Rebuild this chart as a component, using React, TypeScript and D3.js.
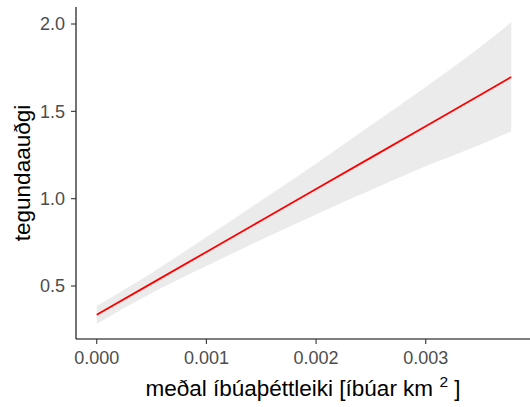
import React from 'react';
import * as d3 from 'd3';

const density = [0, 0.0005, 0.001, 0.0015, 0.002, 0.0025, 0.003, 0.0035, 0.00378];
const fitted = [0.335, 0.515, 0.695, 0.875, 1.055, 1.235, 1.415, 1.595, 1.697];
const upperCI = [0.385, 0.575, 0.78, 0.99, 1.2, 1.42, 1.64, 1.87, 2.011];
const lowerCI = [0.283, 0.46, 0.615, 0.765, 0.91, 1.05, 1.185, 1.31, 1.385];

const xTicks = [0, 0.001, 0.002, 0.003];
const yTicks = [0.5, 1.0, 1.5, 2.0];

const W = 530;
const H = 407;
const margin = { top: 7, right: 0, bottom: 68, left: 76 };

type Row = { x: number; fit: number; lo: number; hi: number };

const App: React.FC = () => {
  const rows: Row[] = density.map((x, i) => ({ x, fit: fitted[i], lo: lowerCI[i], hi: upperCI[i] }));

  // ggplot-style 5% expansion
  const xMin = d3.min(density) as number;
  const xMax = d3.max(density) as number;
  const yMin = d3.min(lowerCI) as number;
  const yMax = d3.max(upperCI) as number;
  const xPad = (xMax - xMin) * 0.05;
  const yPad = (yMax - yMin) * 0.05;

  const x = d3.scaleLinear()
    .domain([xMin - xPad, xMax + xPad])
    .range([margin.left, 532]);
  const y = d3.scaleLinear()
    .domain([yMin - yPad, yMax + yPad])
    .range([H - margin.bottom, margin.top]);

  const area = d3.area<Row>()
    .x(d => x(d.x))
    .y0(d => y(d.lo))
    .y1(d => y(d.hi))
    .curve(d3.curveMonotoneX);

  const line = d3.line<Row>()
    .x(d => x(d.x))
    .y(d => y(d.fit));

  const fmtX = d3.format('.3f');
  const fmtY = d3.format('.1f');
  const bottom = H - margin.bottom;

  return (
    <div style={{ position: 'absolute', left: 0, top: 0 }}>
      <svg width={W} height={H} style={{ display: 'block', fontFamily: '"Liberation Sans", Arial, sans-serif' }}>
        <rect width={W} height={H} fill="#fff" />
        <path d={area(rows) ?? ''} fill="#EBEBEB" />
        <path d={line(rows) ?? ''} fill="none" stroke="#FF0000" strokeWidth={1.8} />

        {/* axes */}
        <line x1={margin.left} x2={margin.left} y1={margin.top} y2={bottom} stroke="#000" strokeWidth={1.1} />
        <line x1={margin.left} x2={W} y1={bottom} y2={bottom} stroke="#000" strokeWidth={1.1} />

        {xTicks.map(t => (
          <g key={t} transform={`translate(${x(t)},${bottom})`}>
            <line y1={0} y2={5} stroke="#333" strokeWidth={1.1} />
            <text y={25} textAnchor="middle" fill="#4D4D4D" fontSize={18}>{fmtX(t)}</text>
          </g>
        ))}
        {yTicks.map(t => (
          <g key={t} transform={`translate(${margin.left},${y(t)})`}>
            <line x1={-5} x2={0} stroke="#333" strokeWidth={1.1} />
            <text x={-11} dy="0.36em" textAnchor="end" fill="#4D4D4D" fontSize={18}>{fmtY(t)}</text>
          </g>
        ))}

        <text x={(margin.left + W) / 2} y={396} textAnchor="middle" fill="#000" fontSize={22.5}>
          meðal íbúaþéttleiki [íbúar km <tspan fontSize={15.5} dy={-9}>2</tspan><tspan dy={9}> ]</tspan>
        </text>
        <text transform={`translate(30,${(margin.top + bottom) / 2}) rotate(-90)`} textAnchor="middle" fill="#000" fontSize={22.5}>
          tegundaauðgi
        </text>
      </svg>
    </div>
  );
};

export default App;
